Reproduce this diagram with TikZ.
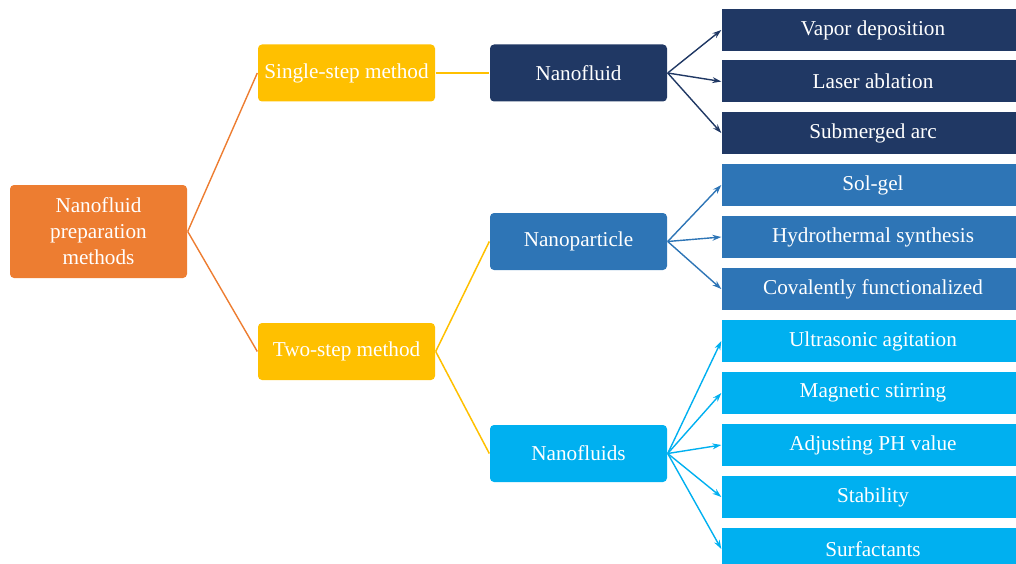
\documentclass[tikz,border=0pt]{standalone}
\usepackage{fontspec}
\setmainfont{Liberation Serif}
\usetikzlibrary{arrows.meta}
\definecolor{rootorange}{HTML}{ED7D31}
\definecolor{stepgold}{HTML}{FFC000}
\definecolor{fluidnavy}{HTML}{203864}
\definecolor{particleblue}{HTML}{2E75B6}
\definecolor{fluidsky}{HTML}{00B0F0}

\begin{document}
\begin{tikzpicture}[x=1pt,y=-1pt,>={Stealth[length=9pt,width=6pt]},
                    line width=1.4pt,font=\fontsize{21.2}{26}\selectfont,text=white]
  \tikzstyle{branch}=[rounded corners=4pt,minimum width=177pt,minimum height=57pt,
                      inner sep=2pt,align=center]
  \tikzstyle{leaf}=[minimum width=302pt,minimum height=42pt,inner sep=0pt]

  \useasboundingbox (0,0) rectangle (1016,564);
  \clip (0,0) rectangle (1016,564);

  % left part of the tree
  \node[branch,fill=rootorange,minimum height=93pt] (root)   at (98.5,231.5) {Nanofluid\\preparation\\methods};
  \node[branch,fill=stepgold]     (single)  at (346.5,73)    {Single-step method};
  \node[branch,fill=stepgold]     (two)     at (346.5,351.5) {Two-step method};
  \node[branch,fill=fluidnavy]    (fluid)   at (578.5,73)    {Nanofluid};
  \node[branch,fill=particleblue] (particle) at (578.5,241.5) {Nanoparticle};
  \node[branch,fill=fluidsky]     (fluids)  at (578.5,453.5) {Nanofluids};

  % right column
  \node[leaf,fill=fluidnavy]    (vapor)      at (873,30)    {Vapor deposition};
  \node[leaf,fill=fluidnavy]    (laser)      at (873,81.5)  {Laser ablation};
  \node[leaf,fill=fluidnavy]    (arc)        at (873,133)   {Submerged arc};
  \node[leaf,fill=particleblue] (solgel)     at (873,185)   {Sol-gel};
  \node[leaf,fill=particleblue] (hydro)      at (873,237)   {Hydrothermal synthesis};
  \node[leaf,fill=particleblue] (covalent)   at (873,289)   {Covalently functionalized};
  \node[leaf,fill=fluidsky]     (ultrasonic) at (873,341)   {Ultrasonic agitation};
  \node[leaf,fill=fluidsky]     (magnetic)   at (873,393)   {Magnetic stirring};
  \node[leaf,fill=fluidsky]     (ph)         at (873,445)   {Adjusting PH value};
  \node[leaf,fill=fluidsky]     (stability)  at (873,497)   {Stability};
  \node[leaf,fill=fluidsky]     (surfact)    at (873,549)   {Surfactants};

  \path[color=rootorange] (root.east) edge (single.west)
                                      edge (two.west);
  \path[color=stepgold,line width=1.5pt]
        (single.east) edge (fluid.west)
        (two.east)    edge (particle.west)
                      edge (fluids.west);
  \path[->,color=fluidnavy]
        (fluid.east) edge (vapor.west)
                     edge (laser.west)
                     edge (arc.west);
  \path[->,color=particleblue]
        (particle.east) edge (solgel.west)
                        edge (hydro.west)
                        edge (covalent.west);
  \path[->,color=fluidsky]
        (fluids.east) edge (ultrasonic.west)
                      edge (magnetic.west)
                      edge (ph.west)
                      edge (stability.west)
                      edge (surfact.west);
\end{tikzpicture}
\end{document}
